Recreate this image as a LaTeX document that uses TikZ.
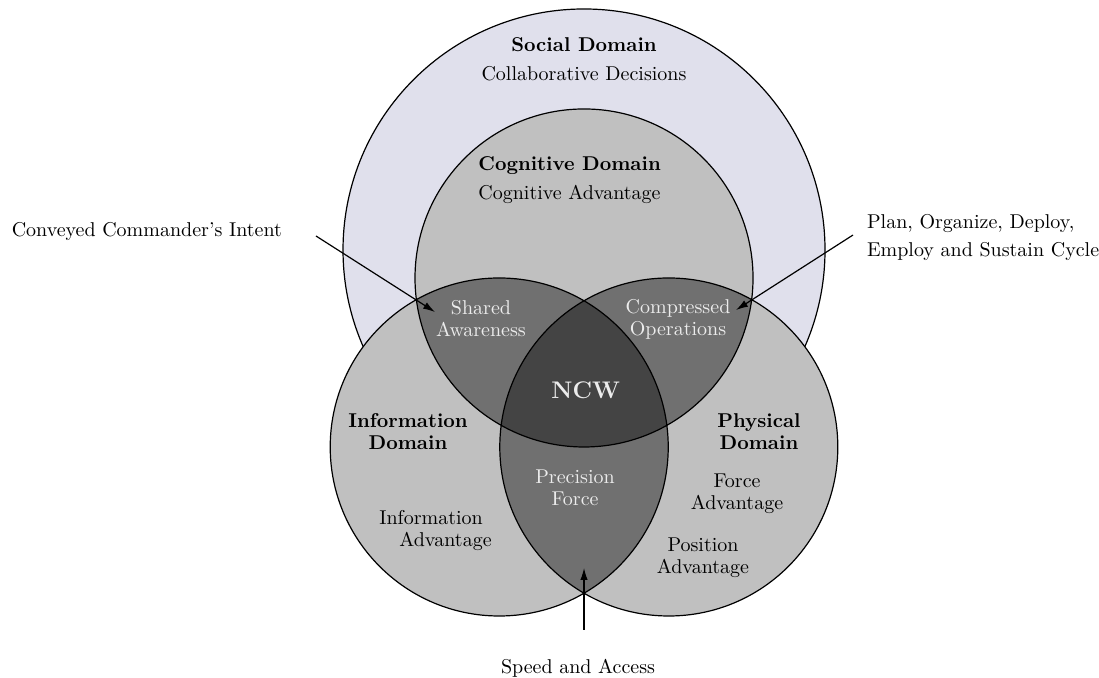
\documentclass[tikz,border=0pt]{standalone}
\usetikzlibrary{arrows.meta}

\definecolor{socialfill}{RGB}{224,224,236}
\definecolor{domfill}{RGB}{192,192,192}
\definecolor{pairfill}{RGB}{112,112,112}
\definecolor{corefill}{RGB}{68,68,68}
\definecolor{lighttext}{RGB}{236,236,236}

\begin{document}
\begin{tikzpicture}[
  ring/.style={draw,semithick},
  head/.style={align=center,font=\bfseries},
  inlab/.style={align=center,text=lighttext},
  lab/.style={align=center},
  arr/.style={-{Latex[length=2.1mm,width=1.3mm]},semithick}
]
\useasboundingbox (-10.263,-4.059) rectangle (9.050,7.855);

% ---------- centres ----------
\def\R{2.97}
\coordinate (soc) at (0,3.462);
\coordinate (cog) at (0,2.97);
\coordinate (inf) at (-1.49,0);
\coordinate (phy) at (1.49,0);

% ---------- domains ----------
\filldraw[ring,fill=socialfill] (soc) circle (4.235);
\fill[domfill] (cog) circle (\R);
\fill[domfill] (inf) circle (\R);
\fill[domfill] (phy) circle (\R);

% pairwise overlaps
\begin{scope}
  \clip (cog) circle (\R);
  \fill[pairfill] (inf) circle (\R);
  \fill[pairfill] (phy) circle (\R);
\end{scope}
\begin{scope}
  \clip (inf) circle (\R);
  \fill[pairfill] (phy) circle (\R);
\end{scope}
% all three
\begin{scope}
  \clip (cog) circle (\R);
  \clip (inf) circle (\R);
  \fill[corefill] (phy) circle (\R);
\end{scope}

\draw[ring] (cog) circle (\R) (inf) circle (\R) (phy) circle (\R);

% ---------- labels ----------
\node[lab] (socT) at (0,6.82) {\textbf{Social Domain}\\[2.5pt] Collaborative Decisions};
\node[anchor=west,align=left] (cogT) at (-1.98,4.692) {\textbf{Cognitive Domain}\\[2.5pt] Cognitive Advantage};

\node[inlab] (shared) at (-1.81,2.25) {Shared\\[-1pt]Awareness};
\node[inlab] (compr) at (1.652,2.25) {Compressed\\[-1pt]Operations};
\node[text=lighttext,font=\large\bfseries] (ncw) at (0.03,1.0) {NCW};
\node[inlab] (prec) at (-0.158,-0.72) {Precision\\[-1pt]Force};

\node[head] (infT) at (-3.093,0.264) {Information\\[-1pt]Domain};
\node[head] (phyT) at (3.075,0.264) {Physical\\[-1pt]Domain};
\node[anchor=west,align=left] (infA) at (-3.72,-1.459) {Information\\[-1pt]\quad Advantage};
\node[lab] (forceA) at (2.689,-0.826) {Force\\[-1pt]Advantage};
\node[lab] (posA) at (2.091,-1.951) {Position\\[-1pt]Advantage};

% ---------- outside notes ----------
\node[anchor=west] (intent) at (-10.18,3.778) {Conveyed Commander's Intent};
\node[anchor=west,align=left] (cycle) at (4.85,3.673) {Plan, Organize, Deploy,\\[2pt] Employ and Sustain Cycle};
\node (speed) at (-0.105,-3.884) {Speed and Access};

\coordinate (intentTail) at (-4.71,3.708);
\coordinate (intentTip) at (-2.618,2.372);
\coordinate (cycleTail) at (4.727,3.725);
\coordinate (cycleTip) at (2.671,2.407);
\coordinate (speedTail) at (0,-3.216);
\coordinate (speedTip) at (0,-2.126);

\draw[arr] (intentTail) -- (intentTip);
\draw[arr] (cycleTail) -- (cycleTip);
\draw[arr] (speedTail) -- (speedTip);

\end{tikzpicture}
\end{document}
